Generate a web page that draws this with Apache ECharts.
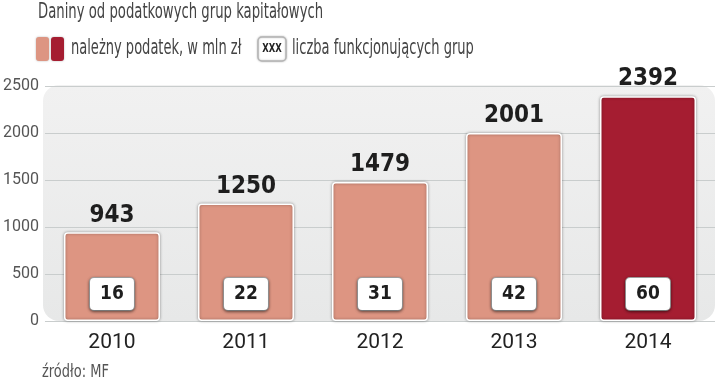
<!DOCTYPE html>
<html>
<head>
<meta charset="utf-8">
<script src="https://cdn.jsdelivr.net/npm/echarts@6/dist/echarts.min.js"></script>
<style>html,body{margin:0;padding:0;background:#fff}#c{width:720px;height:383px}</style>
</head>
<body>
<div id="c"></div>
<script>
const years = ['2010', '2011', '2012', '2013', '2014'];
const taxValues = [943, 1250, 1479, 2001, 2392];
const groupCounts = [16, 22, 31, 42, 60];
const yTicks = [0, 500, 1000, 1500, 2000, 2500];

const LIGHT = '#dd9582';
const DARK = '#a51d31';
const NARROW = '"DejaVu Sans Condensed", "Liberation Sans Narrow", "Roboto", sans-serif';

const chart = echarts.init(document.getElementById('c'), null, {renderer: 'canvas'});

const barData = taxValues.map((v, i) => ({
  value: v,
  itemStyle: {color: i === taxValues.length - 1 ? DARK : LIGHT}
}));

chart.setOption({
  animation: false,
  backgroundColor: '#fff',
  grid: {left: 43, right: 5, top: 86, bottom: 62},
  xAxis: {
    type: 'category',
    data: years,
    axisLine: {show: false},
    axisTick: {show: false},
    axisLabel: {color: '#222', fontSize: 21, fontFamily: 'Roboto, sans-serif', margin: 11}
  },
  yAxis: {
    type: 'value',
    min: yTicks[0],
    max: yTicks[yTicks.length - 1],
    interval: 500,
    axisLine: {show: false},
    axisTick: {show: false},
    axisLabel: {color: '#555', fontSize: 16, fontFamily: 'Roboto, sans-serif', margin: 6,
      formatter: v => String(v)},
    splitLine: {show: true, lineStyle: {color: '#c9cdcd', width: 1}}
  },
  graphic: [
    {
      type: 'rect', z: -10, silent: true,
      shape: {x: 43, y: 85, width: 672, height: 236, r: [16, 16, 16, 16]},
      style: {fill: new echarts.graphic.LinearGradient(0, 0, 0, 1, [
        {offset: 0, color: '#f1f1f1'}, {offset: 1, color: '#e7e8e8'}])}
    },
    {
      type: 'text', x: 38, y: 13, scaleX: 0.7,
      style: {text: 'Daniny od podatkowych grup kapitałowych', font: '21px ' + NARROW, fill: '#444', verticalAlign: 'middle'}
    },
    {
      type: 'rect', shape: {x: 36, y: 37, width: 13, height: 24, r: 3},
      style: {fill: LIGHT, shadowBlur: 2, shadowColor: 'rgba(0,0,0,0.3)'}
    },
    {
      type: 'rect', shape: {x: 51, y: 37, width: 13, height: 24, r: 3},
      style: {fill: DARK, shadowBlur: 2, shadowColor: 'rgba(0,0,0,0.3)'}
    },
    {
      type: 'text', x: 71, y: 49, scaleX: 0.69,
      style: {text: 'należny podatek, w mln zł', font: '21px ' + NARROW, fill: '#444', verticalAlign: 'middle'}
    },
    {
      type: 'rect', shape: {x: 258, y: 37, width: 28, height: 24, r: 4},
      style: {fill: '#fff', stroke: '#b5b5b5', lineWidth: 1.5, shadowBlur: 2, shadowColor: 'rgba(0,0,0,0.25)'}
    },
    {
      type: 'text', x: 272, y: 49, scaleX: 0.72,
      style: {text: 'XXX', font: 'bold 13px ' + NARROW, fill: '#222', align: 'center', verticalAlign: 'middle'}
    },
    {
      type: 'text', x: 292, y: 49, scaleX: 0.69,
      style: {text: 'liczba funkcjonujących grup', font: '21px ' + NARROW, fill: '#444', verticalAlign: 'middle'}
    },
    {
      type: 'text', x: 42, y: 373, scaleX: 0.85,
      style: {text: 'źródło: MF', font: '17px ' + NARROW, fill: '#555', verticalAlign: 'middle'}
    }
  ],
  series: [
    {
      type: 'bar',
      data: barData,
      barWidth: 96,
      itemStyle: {
        borderColor: '#fff', borderWidth: 1.5, borderRadius: 3,
        shadowBlur: 3, shadowColor: 'rgba(0,0,0,0.35)'
      },
      label: {
        show: true, position: 'top', distance: 5,
        color: '#1e1e1e', fontSize: 24, fontWeight: 'bold', fontFamily: NARROW
      }
    },
    {
      type: 'bar',
      data: taxValues,
      barWidth: 96,
      barGap: '-100%',
      itemStyle: {color: 'rgba(0,0,0,0)'},
      z: 3,
      label: {
        show: true, position: 'insideBottom', distance: 11,
        formatter: p => String(groupCounts[p.dataIndex]),
        color: '#1e1e1e', fontSize: 19, fontWeight: 'bold', fontFamily: NARROW,
        backgroundColor: '#fff', borderColor: '#a8a8a8', borderWidth: 1, borderRadius: 4,
        width: 44, height: 32, lineHeight: 32, align: 'center', padding: 0,
        shadowBlur: 3, shadowColor: 'rgba(0,0,0,0.45)', shadowOffsetY: 1
      }
    }
  ]
});
</script>
</body>
</html>
